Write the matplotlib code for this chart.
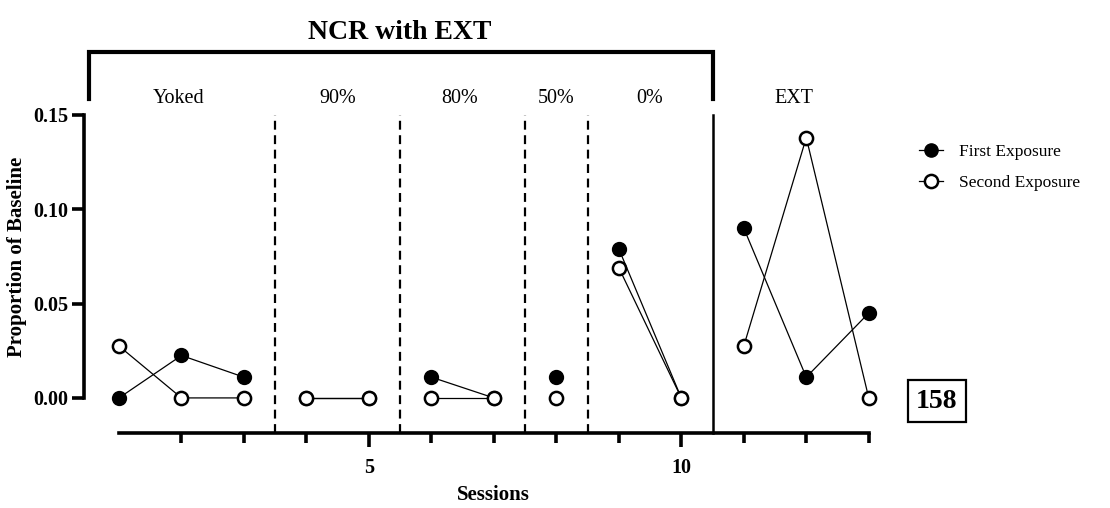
import numpy as np
import matplotlib
matplotlib.use("Agg")
import matplotlib.pyplot as plt

plt.rcParams["font.family"] = ["Liberation Serif", "DejaVu Serif"]

sessions = np.arange(1, 14)
first_exposure = [0.000, 0.0225, 0.011, 0.000, 0.000, 0.011, 0.000, 0.011, 0.079, 0.000, 0.090, 0.011, 0.045]
second_exposure = [0.0275, 0.000, 0.000, 0.000, 0.000, 0.000, 0.000, 0.000, 0.069, 0.000, 0.0275, 0.138, 0.000]

# phases: first/last session of each one
phase_names = ["Yoked", "90%", "80%", "50%", "0%", "EXT"]
phase_ranges = [(1, 3), (4, 5), (6, 7), (8, 8), (9, 10), (11, 13)]
label_x = [1.95, 4.5, 6.45, 8.0, 9.5, 11.8]
dashed_lines = [3.5, 5.5, 7.5, 8.5]
solid_line = 10.5

W, H = 1110, 508
fig = plt.figure(figsize=(W / 100, H / 100), dpi=100)

# axes placed in pixel coords
left, right, top, bottom = 84, 880, 115, 433
ax = fig.add_axes([left / W, 1 - bottom / H, (right - left) / W, (bottom - top) / H])
ymin = -0.0186
ax.set_xlim(0.44, 13.18)
ax.set_ylim(ymin, 0.15)

first = np.array(first_exposure)
second = np.array(second_exposure)
for a, b in phase_ranges:
    idx = slice(a - 1, b)
    ax.plot(sessions[idx], first[idx], "-o", color="black", lw=0.9, ms=9.5,
            mfc="black", mec="black", mew=1.5, clip_on=False, zorder=3)
    ax.plot(sessions[idx], second[idx], "-o", color="black", lw=0.9, ms=9.5,
            mfc="white", mec="black", mew=1.8, clip_on=False, zorder=4)

for xv in dashed_lines:
    ax.plot([xv, xv], [ymin, 0.15], ls=(0, (4, 2.5)), color="black", lw=1.6, clip_on=False)
ax.plot([solid_line, solid_line], [ymin, 0.15], color="black", lw=1.8, clip_on=False)

# phase labels
for name, xl in zip(phase_names, label_x):
    ax.text(xl, 0.159, name, ha="center", va="center", fontsize=14.5, clip_on=False)

# bracket for NCR with EXT
ax.plot([0.52, 0.52, 10.5, 10.5], [0.1585, 0.1834, 0.1834, 0.1585], color="black",
        lw=3, clip_on=False, solid_joinstyle="miter")
ax.text(5.5, 0.1935, "NCR with EXT", ha="center", va="center", fontsize=20,
        fontweight="bold", clip_on=False)

# spines
for s in ["top", "right"]:
    ax.spines[s].set_visible(False)
ax.spines["left"].set_linewidth(2.6)
ax.spines["bottom"].set_linewidth(2.6)
ax.spines["left"].set_bounds(0, 0.15)
ax.spines["bottom"].set_bounds(1, 13)

ax.set_yticks([0.00, 0.05, 0.10, 0.15])
ax.set_yticklabels(["0.00", "0.05", "0.10", "0.15"])
ax.set_xticks([5, 10])
ax.set_xticks([2, 3, 4, 6, 7, 8, 9, 11, 12, 13], minor=True)
ax.tick_params(axis="y", length=9, width=2.6, labelsize=14.5, pad=2)
ax.tick_params(axis="x", which="major", length=10, width=2.6, labelsize=14.5, pad=8)
ax.tick_params(axis="x", which="minor", length=7, width=2.6)
for lab in ax.get_xticklabels() + ax.get_yticklabels():
    lab.set_fontweight("bold")

ax.set_ylabel("Proportion of Baseline", fontsize=15, fontweight="bold")
ax.yaxis.set_label_coords((17 - left) / (right - left), (bottom - 257) / (bottom - top))
ax.set_xlabel("Sessions", fontsize=15, fontweight="bold")
ax.xaxis.set_label_coords((493 - left) / (right - left), -(495 - bottom) / (bottom - top))
ax.xaxis.label.set_va("center")
ax.yaxis.label.set_va("center")

# legend
h1, = ax.plot([], [], "-o", color="black", lw=0.9, ms=9.5, mfc="black", mec="black")
h2, = ax.plot([], [], "-o", color="black", lw=0.9, ms=9.5, mfc="white", mec="black", mew=1.8)
fig.legend([h1, h2], ["First Exposure", "Second Exposure"], loc="upper left",
           bbox_to_anchor=(903 / W, 1 - 128 / H), frameon=False, fontsize=12.5,
           handlelength=1.4, handletextpad=0.9, labelspacing=0.85)

fig.text(937 / W, 1 - 401 / H, "158", ha="center", va="center", fontsize=20,
         fontweight="bold",
         bbox=dict(boxstyle="square,pad=0.3", fc="white", ec="black", lw=1.6))

fig.savefig("out.png", dpi=100)
